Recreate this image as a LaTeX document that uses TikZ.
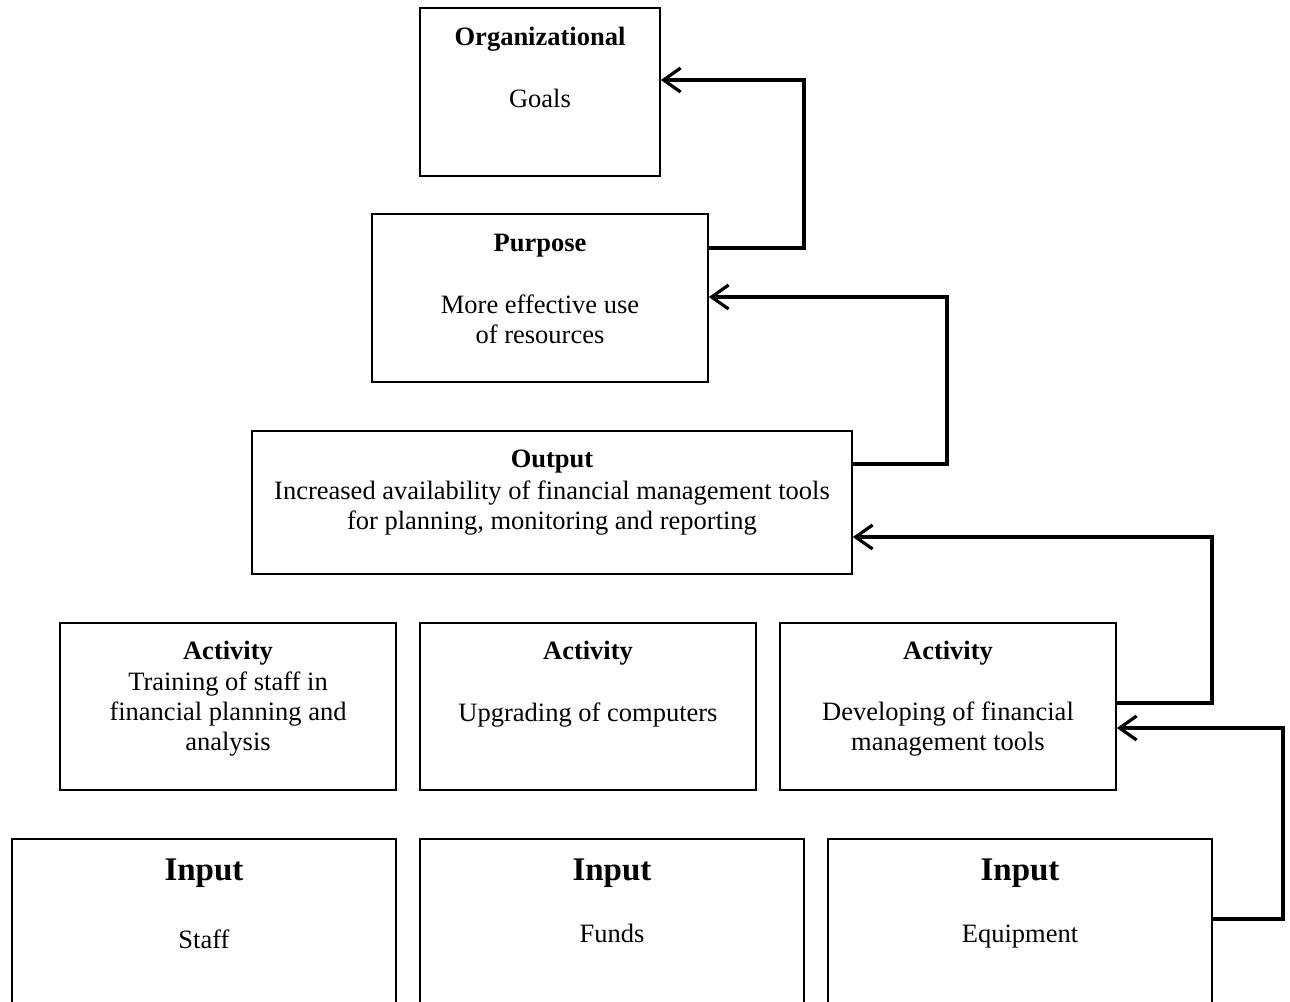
\documentclass[tikz,border=0pt]{standalone}
\usepackage{fontspec}
\setmainfont{Liberation Serif}
\usetikzlibrary{arrows.meta}
\begin{document}
\begin{tikzpicture}[x=1pt,y=-1pt,
  box/.style={draw,line width=1.6pt,rectangle,inner sep=0pt},
  txt/.style={anchor=base,inner sep=0pt,font=\fontsize{26.5}{30}\selectfont},
  ttl/.style={txt,font=\fontsize{26.5}{30}\selectfont\bfseries},
  bigttl/.style={txt,font=\fontsize{33}{40}\selectfont\bfseries},
  conn/.style={line width=3.4pt,line join=miter,
    -{Straight Barb[length=17pt,width=24pt,line width=3.2pt]}}]
\useasboundingbox (0,0) rectangle (1290,1001);
\clip (0,0) rectangle (1290,1001);
\fill[white] (0,0) rectangle (1290,1001);

% goal level
\node[box,minimum width=240pt,minimum height=168pt] (org) at (540,92) {};
\node[ttl] (orgT) at (540,45) {Organizational};
\node[txt] (orgB) at (540,107) {Goals};

% purpose level (multi-line texts sit on the baseline of their last line)
\node[box,minimum width=336pt,minimum height=168pt] (purpose) at (540,298) {};
\node[ttl] (purT) at (540,251) {Purpose};
\node[txt,align=center] (purB) at (540,343) {More effective use\\of resources};

% output level
\node[box,minimum width=600pt,minimum height=143pt] (output) at (552,502.5) {};
\node[ttl] (outT) at (552,467) {Output};
\node[txt,align=center] (outB) at (552,529) {Increased availability of financial management tools\\for planning, monitoring and reporting};

% activities
\node[box,minimum width=336pt,minimum height=167pt] (act1) at (228,706.5) {};
\node[box,minimum width=336pt,minimum height=167pt] (act2) at (588,706.5) {};
\node[box,minimum width=336pt,minimum height=167pt] (act3) at (948,706.5) {};
\node[ttl] (a1T) at (228,659) {Activity};
\node[ttl] (a2T) at (588,659) {Activity};
\node[ttl] (a3T) at (948,659) {Activity};
\node[txt,align=center] (a1B) at (228,750) {Training of staff in\\financial planning and\\analysis};
\node[txt] (a2B) at (588,721) {Upgrading of computers};
\node[txt,align=center] (a3B) at (948,750) {Developing of financial\\management tools};

% inputs (running off the lower edge)
\node[box,minimum width=384pt,minimum height=200pt] (in1) at (204,939) {};
\node[box,minimum width=384pt,minimum height=200pt] (in2) at (612,939) {};
\node[box,minimum width=384pt,minimum height=200pt] (in3) at (1020,939) {};
\node[bigttl] (i1T) at (204,880) {Input};
\node[bigttl] (i2T) at (612,880) {Input};
\node[bigttl] (i3T) at (1020,880) {Input};
\node[txt] (i1B) at (204,948) {Staff};
\node[txt] (i2B) at (612,942) {Funds};
\node[txt] (i3B) at (1020,942) {Equipment};

% feedback connectors
\coordinate (k1) at (804,80);
\coordinate (k2) at (947,297);
\coordinate (k3) at (1212,537);
\coordinate (k4) at (1283,728);
\draw[conn] (purpose.east |- 0,248) -| (k1) -- (org.east |- k1);
\draw[conn] (output.east |- 0,464) -| (k2) -- (purpose.east |- k2);
\draw[conn] (act3.east |- 0,703) -| (k3) -- (output.east |- k3);
\draw[conn] (in3.east |- 0,919) -| (k4) -- (act3.east |- k4);
\end{tikzpicture}
\end{document}
